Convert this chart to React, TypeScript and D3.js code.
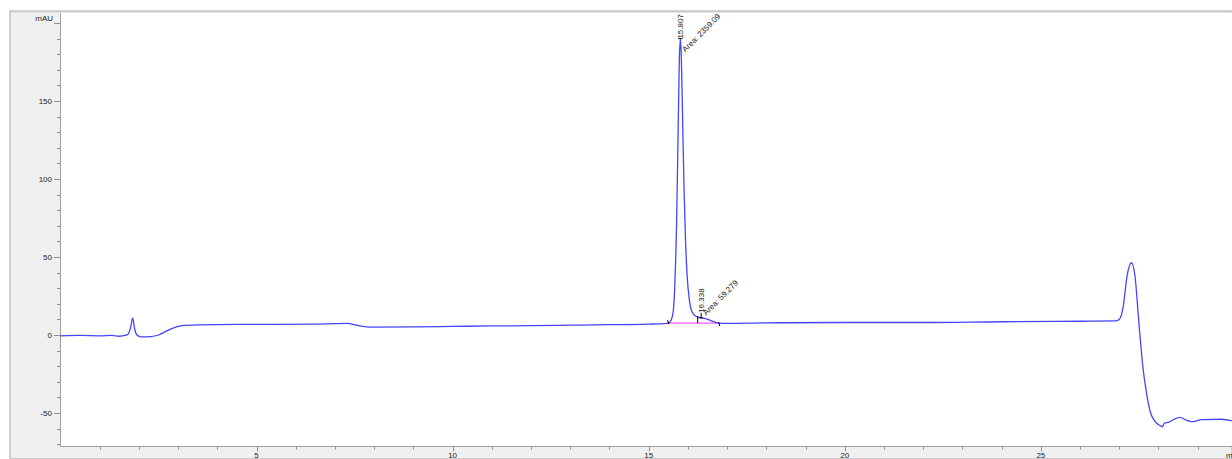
import { useEffect, useRef } from 'react'
import * as d3 from 'd3'

// retention time (min) and detector signal (mAU)
const times = [
  0, 0.5, 1.0, 1.3, 1.5, 1.65, 1.72, 1.79, 1.84, 1.89, 1.95, 2.05, 2.3, 2.5, 2.7, 2.9, 3.1, 3.5,
  4.5, 5.5, 6.5, 7.0, 7.3, 7.6, 7.9, 9, 10, 11, 12, 13, 14, 15, 15.4, 15.5, 15.58, 15.63, 15.67,
  15.71, 15.75, 15.78, 15.807, 15.83, 15.86, 15.9, 15.94, 15.98, 16.04, 16.1, 16.2, 16.338, 16.45,
  16.6, 16.75, 16.9, 18, 20, 22, 24, 26, 26.9, 27.0, 27.1, 27.2, 27.31, 27.4, 27.5, 27.6, 27.7,
  27.8, 27.9, 28.0, 28.1, 28.15, 28.25, 28.4, 28.55, 28.7, 28.88, 29.1, 29.6, 29.87,
]
const signal = [
  -0.5, -0.3, -0.5, -0.2, -0.8, -0.3, 0.5, 5, 11, 4, 0, -1.2, -1.0, 0, 2.5, 4.8, 6, 6.5,
  6.8, 6.8, 7, 7.3, 7.4, 6, 5, 5.2, 5.5, 5.8, 6, 6.3, 6.6, 7, 7.3, 7.6, 10, 16, 35,
  70, 130, 175, 190, 180, 145, 95, 60, 38, 22, 15, 12, 11, 10.5,
  9, 7.8, 7.5, 7.8, 8, 8, 8.5, 8.8, 9, 10, 18, 38, 46.3, 38, 8, -20, -38,
  -50, -55, -57.5, -58.8, -56.5, -56, -54, -52.8, -54.5, -55.5, -54.2, -54, -55,
]

// integrated peaks
const peakTimes = [15.807, 16.338]
const peakApex = [190, 11]
const peakAreas = ['2359.09', '59.279']
const integStart = 15.485
const integSplit = 16.25
const integEnd = 16.786
const integBase = 7.6

const yMajor = [-50, 0, 50, 100, 150]
const yMinor = d3.range(-70, 201, 10)
const xMajor = [5, 10, 15, 20, 25]
const xMinor = d3.range(1, 30, 1)

const width = 1232
const height = 459
const FONT = 'Liberation Sans, Arial, sans-serif'

function Chromatogram() {
  const ref = useRef<SVGSVGElement>(null)

  useEffect(() => {
    const svg = d3.select(ref.current)
    svg.selectAll('*').remove()

    const x = d3.scaleLinear().domain([0, 29.875]).range([60.5, 1232])
    const y = d3.scaleLinear().domain([-71.15, 206.4]).range([446, 13])

    // frame
    svg.append('rect').attr('width', width).attr('height', height).attr('fill', '#ffffff')
    svg.append('rect').attr('x', 10).attr('y', 11).attr('width', width - 10).attr('height', height - 11)
      .attr('fill', '#f0f0f0').attr('stroke', '#a8a8a8')
    svg.append('line').attr('x1', 11.5).attr('x2', width).attr('y1', 12.5).attr('y2', 12.5).attr('stroke', '#e2e2e2')
    svg.append('rect').attr('x', 60.5).attr('y', 13).attr('width', width - 60.5).attr('height', 433)
      .attr('fill', '#ffffff')

    // y axis
    const ya = svg.append('g').attr('font-family', FONT).attr('font-size', 8)
    ya.append('line').attr('x1', 60.5).attr('x2', 60.5).attr('y1', 13).attr('y2', 446).attr('stroke', '#a0a0a0')
    ya.selectAll('.minor').data(yMinor).join('line')
      .attr('x1', 57).attr('x2', 60).attr('y1', (d) => Math.round(y(d)) + 0.5).attr('y2', (d) => Math.round(y(d)) + 0.5)
      .attr('stroke', '#909090')
    ya.selectAll('.major').data([...yMajor, 200]).join('line')
      .attr('x1', 54).attr('x2', 60).attr('y1', (d) => Math.round(y(d)) + 0.5).attr('y2', (d) => Math.round(y(d)) + 0.5)
      .attr('stroke', '#909090')
    ya.selectAll('text.lab').data(yMajor).join('text')
      .attr('x', 52).attr('y', (d) => y(d) + 3).attr('text-anchor', 'end').attr('fill', '#222')
      .text((d) => String(d))
    ya.append('text').attr('x', 53).attr('y', 21).attr('text-anchor', 'end').attr('fill', '#222').text('mAU')

    // x axis
    const xa = svg.append('g').attr('font-family', FONT).attr('font-size', 8)
    xa.append('line').attr('x1', 60).attr('x2', width).attr('y1', 446.5).attr('y2', 446.5).attr('stroke', '#a0a0a0')
    xa.selectAll('.minor').data(xMinor).join('line')
      .attr('x1', (d) => Math.round(x(d)) + 0.5).attr('x2', (d) => Math.round(x(d)) + 0.5)
      .attr('y1', 447).attr('y2', 449.5).attr('stroke', '#909090')
    xa.selectAll('.major').data(xMajor).join('line')
      .attr('x1', (d) => Math.round(x(d)) + 0.5).attr('x2', (d) => Math.round(x(d)) + 0.5)
      .attr('y1', 447).attr('y2', 451.5).attr('stroke', '#909090')
    xa.selectAll('text.lab').data(xMajor).join('text')
      .attr('x', (d) => x(d)).attr('y', 458).attr('text-anchor', 'middle').attr('fill', '#222')
      .text((d) => String(d))
    xa.append('text').attr('x', 1226).attr('y', 458).attr('fill', '#222').text('min')

    // integration baseline
    svg.append('line').attr('x1', x(integStart)).attr('x2', x(integEnd))
      .attr('y1', y(integBase)).attr('y2', y(integBase)).attr('stroke', '#ff55ff').attr('stroke-width', 1.2)

    // trace
    const pts = times.map((t, i) => [t, signal[i]] as [number, number])
    const line = d3.line<[number, number]>().x((d) => x(d[0])).y((d) => y(d[1])).curve(d3.curveMonotoneX)
    svg.append('path').datum(pts).attr('fill', 'none').attr('stroke', '#4444ff').attr('stroke-width', 1.3)
      .attr('d', line)

    // integration marks
    const marks = svg.append('g').attr('stroke', '#000').attr('stroke-width', 1)
    marks.append('line').attr('x1', x(integStart)).attr('x2', x(integStart) + 1)
      .attr('y1', y(integBase) - 3).attr('y2', y(integBase) + 1)
    marks.append('line').attr('x1', x(integSplit)).attr('x2', x(integSplit))
      .attr('y1', y(integBase)).attr('y2', y(12.2))
    marks.append('line').attr('x1', x(integEnd)).attr('x2', x(integEnd) + 1)
      .attr('y1', y(integBase) - 1).attr('y2', y(integBase) + 3)

    // peak labels
    const lab = svg.append('g').attr('font-family', FONT).attr('font-size', 8).attr('fill', '#222')
    peakTimes.forEach((t, i) => {
      const px = x(t)
      const py = y(peakApex[i])
      const gap = i === 0 ? 0 : 5
      const areaDrop = i === 0 ? 14 : 3
      marks.append('line').attr('x1', px - 2).attr('x2', px + 2).attr('y1', py).attr('y2', py)
      marks.append('line').attr('x1', px).attr('x2', px).attr('y1', py).attr('y2', py - gap)
      lab.append('text').attr('transform', `translate(${px + 3},${py - gap}) rotate(-90)`)
        .text(t.toFixed(3))
      lab.append('text').attr('transform', `translate(${px + 5},${py - gap + areaDrop}) rotate(-45)`)
        .text(`Area: ${peakAreas[i]}`)
    })
  }, [])

  return <svg ref={ref} width={width} height={height} style={{ position: 'absolute', left: 0, top: 0 }} />
}

export default function App() {
  return <Chromatogram />
}
